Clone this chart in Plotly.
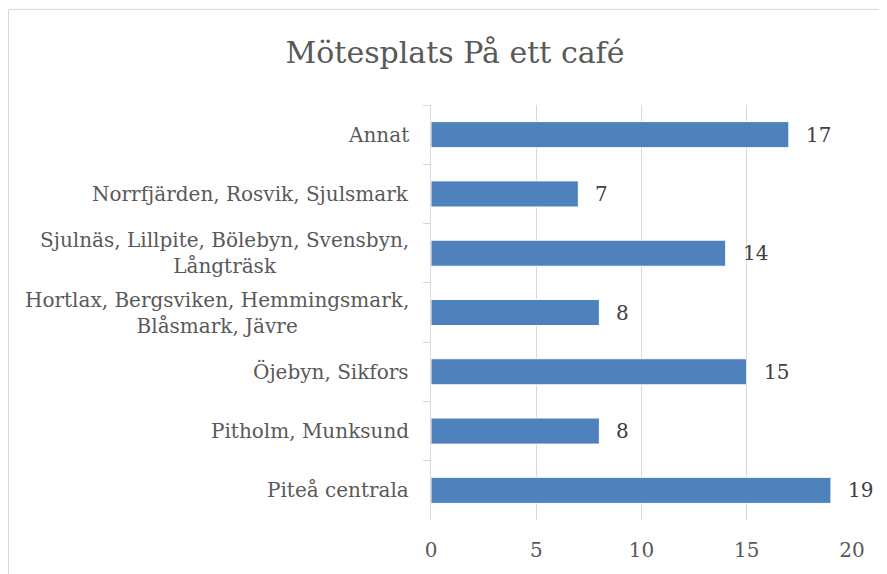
import plotly.graph_objects as go

title_text = "Mötesplats På ett café"
categories = [
    "Annat",
    "Norrfjärden, Rosvik, Sjulsmark",
    "Sjulnäs, Lillpite, Bölebyn, Svensbyn,<br>Långträsk",
    "Hortlax, Bergsviken, Hemmingsmark,<br>Blåsmark, Jävre",
    "Öjebyn, Sikfors",
    "Pitholm, Munksund",
    "Piteå centrala",
]
values = [17, 7, 14, 8, 15, 8, 19]
x_ticks = [0, 5, 10, 15, 20]

OFF = 8  # page body margin
W, H = 887 - OFF, 574 - OFF
L, R, T, B = 431 - OFF, 852 - OFF, 105 - OFF, 524 - OFF  # plot area in pixels
FONT = "DejaVu Serif"
TXT = "#595959"
GRID = "#d9d9d9"

fig = go.Figure()
fig.add_trace(go.Bar(
    x=values, y=categories, orientation="h",
    marker=dict(color="#4f81bd", line=dict(color="#ffffff", width=1)),
    hoverinfo="skip",
))

annotations = []
for c, v in zip(categories, values):
    annotations.append(dict(
        x=v, y=c, xref="x", yref="y", text=str(v), showarrow=False,
        xanchor="left", xshift=15, font=dict(family=FONT, size=20, color="#404040"),
    ))
    annotations.append(dict(
        x=0, y=c, xref="paper", yref="y", text=c, showarrow=False,
        xanchor="right", xshift=-20, align="center",
        font=dict(family=FONT, size=20, color=TXT),
    ))

pw, ph = R - L, B - T
fig.add_shape(type="rect", xref="paper", yref="paper",
              x0=(0.5 - L) / pw, x1=(W + 20 - L) / pw,
              y0=(B - (H + 20)) / ph, y1=(B - 0.5) / ph,
              line=dict(color=GRID, width=1), layer="below")

fig.update_layout(
    width=W, height=H, autosize=False,
    margin=dict(l=L, r=W - R, t=T, b=H - B, pad=0),
    paper_bgcolor="white", plot_bgcolor="white",
    showlegend=False, bargap=0.56,
    title=dict(text=title_text, x=(455 - OFF) / W, xanchor="center",
               y=1 - (52 - OFF) / H, yanchor="middle",
               font=dict(family=FONT, size=30, color=TXT)),
    xaxis=dict(range=[0, 20], tickvals=x_ticks, showgrid=True, gridcolor=GRID,
               gridwidth=1, zeroline=False, showline=False, ticks="",
               ticklabelstandoff=16,
               tickfont=dict(family=FONT, size=20, color=TXT)),
    yaxis=dict(autorange="reversed", showticklabels=False, showline=True,
               linecolor=GRID, linewidth=1, ticks="outside", tickson="boundaries",
               ticklen=7, tickcolor=GRID, tickwidth=1, showgrid=False),
    annotations=annotations,
)

fig.write_html("out.html")
